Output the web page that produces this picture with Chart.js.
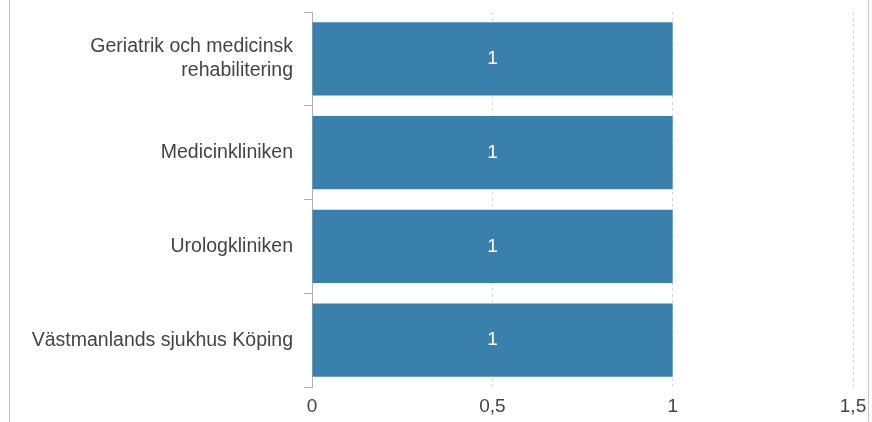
<!DOCTYPE html>
<html>
<head>
<meta charset="utf-8">
<script src="https://cdn.jsdelivr.net/npm/chart.js@4"></script>
<style>
    html, body { margin: 0; padding: 0; background: #fff; }
    #wrap { position: relative; width: 872px; height: 422px; overflow: hidden; }
    #frame { position: absolute; left: 9px; top: 0; width: 858px; height: 422px; border-left: 1px solid #c8c8c8; border-right: 1px solid #c8c8c8; }
    #chart { position: absolute; left: 0; top: 0; }
</style>
</head>
<body>
<div id="wrap">
    <div id="frame"></div>
    <canvas id="chart" width="872" height="422"></canvas>
</div>
<script>
// Categories and values
const categories = [
    ['Geriatrik och medicinsk', 'rehabilitering'],
    'Medicinkliniken',
    'Urologkliniken',
    'Västmanlands sjukhus Köping'
];
const counts = [1, 1, 1, 1];
const xTicks = [0, 0.5, 1, 1.5];

const barColor = 'rgb(58, 128, 172)';
const textColor = '#444';
const fontFamily = '"Liberation Sans", Arial, sans-serif';

// Simple inline value labels (no datalabels plugin available)
const valueLabels = {
    id: 'valueLabels',
    afterDatasetsDraw(chart) {
        const ctx = chart.ctx;
        const meta = chart.getDatasetMeta(0);
        ctx.save();
        ctx.fillStyle = '#fff';
        ctx.font = '19px ' + fontFamily;
        ctx.textAlign = 'center';
        ctx.textBaseline = 'middle';
        meta.data.forEach((bar, i) => {
            const p = bar.getProps(['x', 'y', 'base'], true);
            ctx.fillText(String(counts[i]).replace('.', ','), (p.x + p.base) / 2, p.y);
        });
        ctx.restore();
    }
};

new Chart(document.getElementById('chart'), {
    type: 'bar',
    data: {
        labels: categories,
        datasets: [{
            data: counts,
            backgroundColor: barColor,
            borderWidth: 0,
            barPercentage: 0.783,
            categoryPercentage: 1
        }]
    },
    options: {
        indexAxis: 'y',
        responsive: false,
        animation: false,
        events: [],
        layout: {
            padding: { top: 12, right: 19, bottom: 0, left: 0 }
        },
        plugins: {
            legend: { display: false },
            tooltip: { enabled: false }
        },
        scales: {
            x: {
                min: 0,
                max: 1.5,
                afterBuildTicks: scale => {
                    scale.ticks = xTicks.map(v => ({ value: v }));
                },
                afterFit: scale => {
                    scale.height = 35;
                    scale.paddingLeft = 0;
                    scale.paddingRight = 0;
                },
                grid: {
                    drawTicks: false,
                    lineWidth: 1,
                    color: c => (c.tick && c.tick.value === 0) ? 'rgba(0,0,0,0)' : '#d8d8d8'
                },
                border: { display: false, dash: [3, 3] },
                ticks: {
                    padding: 8,
                    color: textColor,
                    font: { family: fontFamily, size: 19 },
                    callback: v => String(v).replace('.', ',')
                }
            },
            y: {
                afterFit: scale => {
                    scale.width = 312;
                    scale.paddingTop = 0;
                    scale.paddingBottom = 0;
                },
                grid: {
                    offset: true,
                    drawOnChartArea: false,
                    drawTicks: true,
                    tickLength: 8,
                    tickColor: '#b0b0b0'
                },
                border: { display: true, color: '#b0b0b0', width: 1 },
                ticks: {
                    padding: 11,
                    color: textColor,
                    font: { family: fontFamily, size: 19.5, lineHeight: 1.25 }
                }
            }
        }
    },
    plugins: [valueLabels]
});
</script>
</body>
</html>
